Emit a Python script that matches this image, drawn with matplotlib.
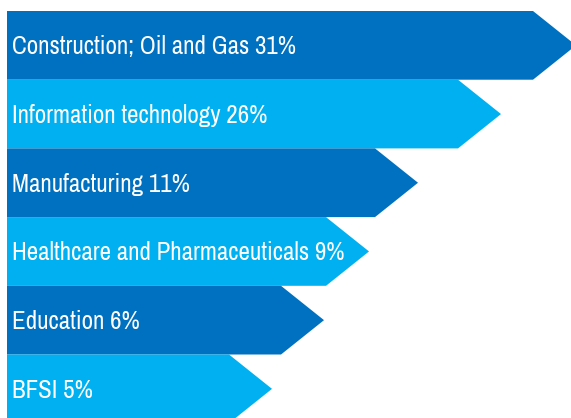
import matplotlib
matplotlib.use("Agg")
import matplotlib.pyplot as plt
from matplotlib.patches import Polygon
from matplotlib.textpath import TextPath
from matplotlib.font_manager import FontProperties

categories = ["Construction; Oil and Gas", "Information technology", "Manufacturing",
              "Healthcare and Pharmaceuticals", "Education", "BFSI"]
values = [31, 26, 11, 9, 6, 5]
# displayed arrow body lengths (in pixel-like units)
arrow_lengths = [526, 451, 368, 319, 274, 222]
colors = ["#0070C0", "#00B0F0", "#0070C0", "#00B0F0", "#0070C0", "#00B0F0"]

fam = ["Archivo Narrow", "DejaVu Sans"]

W, H = 571, 418
DPI = 100
fig = plt.figure(figsize=(W / DPI, H / DPI), dpi=DPI)
ax = fig.add_axes([0, 0, 1, 1])
ax.set_xlim(0, W)
ax.set_ylim(H, 0)
ax.axis("off")

# pick a font size so the first label spans about 282 px
labels = [f"{c} {v}%" for c, v in zip(categories, values)]
fp = FontProperties(family=fam[0], size=100)
w100 = TextPath((0, 0), labels[0], prop=fp).get_extents().width
cap100 = TextPath((0, 0), "C", prop=fp).get_extents().height
fsize = 282 / (w100 / 100) / (DPI / 72)
cap_px = cap100 / 100 * fsize * DPI / 72

x0 = 7
top0 = 11
pitch = 68.7
depth = 43
for i, (lab, L, c) in enumerate(zip(labels, arrow_lengths, colors)):
    t = top0 + i * pitch
    b = t + pitch
    m = (t + b) / 2
    end = x0 + L
    poly = Polygon([(x0, t), (end, t), (end + depth, m), (end, b), (x0, b)],
                   closed=True, facecolor=c, edgecolor="none", zorder=2 + i)
    ax.add_patch(poly)
    ax.text(x0 + 5, m + cap_px / 2, lab, color="white", fontsize=fsize,
            family=fam, va="baseline", ha="left", zorder=10)

fig.savefig("out.png", dpi=DPI)
